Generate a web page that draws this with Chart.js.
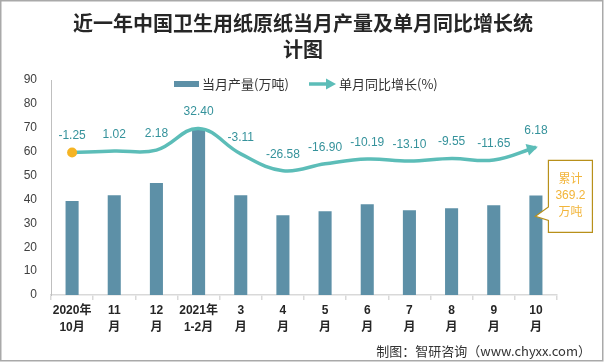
<!DOCTYPE html>
<html><head><meta charset="utf-8">
<script src="https://cdn.jsdelivr.net/npm/chart.js@4.4.1/dist/chart.umd.min.js"></script>
<style>html,body{margin:0;padding:0;background:#fff;}#wrap{width:606px;height:363px;position:relative;}</style>
</head><body><div id="wrap"><canvas id="c" width="606" height="363"></canvas></div>
<script>
const categories = [['2020年','10月'],['11','月'],['12','月'],['2021年','1-2月'],['3','月'],['4','月'],['5','月'],['6','月'],['7','月'],['8','月'],['9','月'],['10','月']];
const production = [39.3,41.8,46.9,69.8,41.8,33.4,35.1,38.0,35.5,36.3,37.6,41.7];
const growth = [-1.25,1.02,2.18,32.40,-3.11,-26.58,-16.90,-10.19,-13.10,-9.55,-11.65,6.18];
const growthLabels = ['-1.25','1.02','2.18','32.40','-3.11','-26.58','-16.90','-10.19','-13.10','-9.55','-11.65','6.18'];
const yTicks = [0,10,20,30,40,50,60,70,80,90];
const titleLines = ['近一年中国卫生用纸原纸当月产量及单月同比增长统','计图'];
const seriesNames = ['当月产量(万吨)','单月同比增长(%)'];
const calloutLines = ['累计','369.2','万吨'];
const sourceText = '制图：智研咨询（www.chyxx.com）';

const BAR = '#5d90a7', LINE = '#5cbdb8', LABEL = '#35929b', DOT = '#f5b424';
const FAM = '"Liberation Sans","Noto Sans CJK SC",sans-serif';
const CJK = '"Noto Sans CJK SC",sans-serif';

function arrowHead(ctx, tx, ty, ang, len, hw, color){
  const c = Math.cos(ang), s = Math.sin(ang);
  const bx = tx - c*len, by = ty - s*len;
  ctx.beginPath();
  ctx.moveTo(tx, ty);
  ctx.lineTo(bx - s*hw, by + c*hw);
  ctx.lineTo(bx + s*hw, by - c*hw);
  ctx.closePath();
  ctx.fillStyle = color; ctx.fill();
}

const deco = {
  id:'deco',
  beforeDraw(chart){
    const ctx = chart.ctx; ctx.save(); ctx.fillStyle='#fff'; ctx.fillRect(0,0,chart.width,chart.height); ctx.restore();
  },
  afterDatasetsDraw(chart){
    const ctx = chart.ctx; ctx.save();
    const lm = chart.getDatasetMeta(1);
    // arrow at end of line
    const last = lm.data[lm.data.length-1];
    const ang = Math.atan2(last.y - last.cp1y, last.x - last.cp1x);
    arrowHead(ctx, last.x + Math.cos(ang)*2, last.y + Math.sin(ang)*2, ang, 11, 6, LINE);
    // labels
    ctx.font = '12px '+FAM; ctx.fillStyle = LABEL; ctx.textAlign='center'; ctx.textBaseline='middle';
    lm.data.forEach((p,i)=>{ ctx.fillText(growthLabels[i], p.x, p.y - 16.5); });
    // callout on last bar
    const bm = chart.getDatasetMeta(0);
    const b = bm.data[bm.data.length-1];
    const L = b.x + 12.5, T = b.y - 35, W = 44, H = 72;
    ctx.beginPath();
    ctx.moveTo(L, T); ctx.lineTo(L+W, T); ctx.lineTo(L+W, T+H); ctx.lineTo(L, T+H);
    ctx.lineTo(L, b.y + 25); ctx.lineTo(b.x - 0.5, b.y + 21); ctx.lineTo(L, b.y + 11.5); ctx.closePath();
    ctx.fillStyle='#fff'; ctx.fill(); ctx.strokeStyle='#b8901a'; ctx.lineWidth=1.2; ctx.stroke();
    ctx.fillStyle='#f2b53a'; ctx.font='12px '+FAM;
    calloutLines.forEach((t,i)=>ctx.fillText(t, L+W/2, b.y - 16 + i*16.5));
    ctx.restore();
  },
  afterDraw(chart){
    const ctx = chart.ctx; ctx.save();
    // title
    ctx.fillStyle='#262626'; ctx.textAlign='center'; ctx.textBaseline='middle';
    ctx.font='bold 20px '+CJK;
    ctx.fillText(titleLines[0], 303, 23);
    ctx.fillText(titleLines[1], 303, 49);
    // legend
    ctx.fillStyle=BAR; ctx.fillRect(174, 81, 25, 6);
    ctx.fillStyle='#333'; ctx.textAlign='left'; ctx.font='13px '+CJK;
    ctx.fillText(seriesNames[0], 202, 84);
    ctx.strokeStyle=LINE; ctx.lineWidth=3.5; ctx.beginPath(); ctx.moveTo(309,84); ctx.lineTo(329,84); ctx.stroke();
    arrowHead(ctx, 336, 84, 0, 10, 5.5, LINE);
    ctx.fillStyle='#333'; ctx.fillText(seriesNames[1], 339, 84);
    // source
    ctx.textAlign='right'; ctx.font='13px '+CJK; ctx.fillStyle='#333';
    ctx.fillText(sourceText, 591, 351);
    // frame
    ctx.strokeStyle='#a9a9a9'; ctx.lineWidth=1.5; ctx.strokeRect(0.75,0.75,602,360);
    ctx.restore();
  }
};

new Chart(document.getElementById('c'), {
  data:{
    labels: categories,
    datasets:[
      {type:'bar', label:seriesNames[0], data:production, backgroundColor:BAR, barPercentage:0.31, categoryPercentage:1, yAxisID:'y', order:1},
      {type:'line', label:seriesNames[1], data:growth, yAxisID:'y2', borderColor:LINE, borderWidth:3.5, tension:0.4,
       pointRadius:growth.map((v,i)=>i===0?5:0), pointBackgroundColor:DOT, pointBorderWidth:0, order:0, fill:false}
    ]
  },
  options:{
    responsive:false, animation:false, devicePixelRatio:1,
    layout:{padding:{top:80,right:49,left:0,bottom:0}},
    plugins:{legend:{display:false}, title:{display:false}, tooltip:{enabled:false}},
    scales:{
      x:{offset:true,
         grid:{display:true, offset:true, drawOnChartArea:false, drawTicks:true, tickLength:5, color:'#d9d9d9', lineWidth:1.5},
         border:{display:true, color:'#d9d9d9', width:1.5},
         ticks:{font:{family:FAM, size:12, weight:'bold', lineHeight:1.4}, color:'#262626', padding:2, maxRotation:0, autoSkip:false},
         afterFit(s){ s.height = 68; }},
      y:{min:0, max:90, afterBuildTicks(s){ s.ticks = yTicks.map(v=>({value:v})); },
         ticks:{font:{family:FAM, size:12}, color:'#404040', padding:14},
         grid:{display:false, drawTicks:false},
         border:{display:true, color:'#bfbfbf', width:1},
         afterFit(s){ s.width = 51; }},
      y2:{display:false, min:-200, max:100}
    }
  },
  plugins:[deco]
});
</script></body></html>
